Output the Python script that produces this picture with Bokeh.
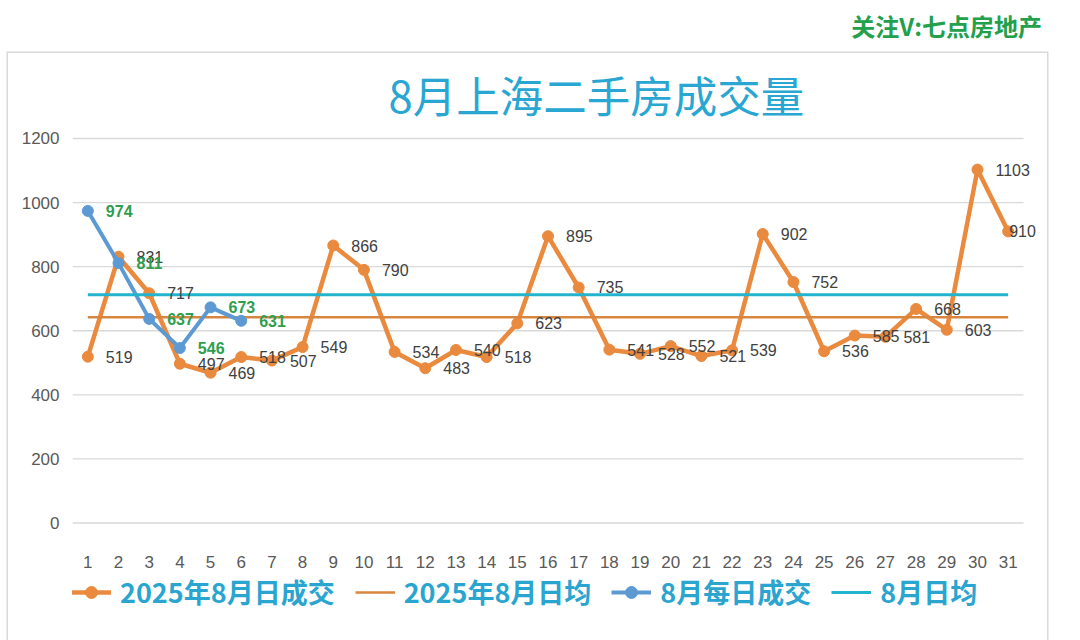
from bokeh.plotting import figure
from bokeh.models import Range1d, FixedTicker, Legend, LegendItem, Title, Div, Spacer
from bokeh.layouts import column, row
from bokeh.core.properties import value
from bokeh.embed import file_html
from bokeh.resources import INLINE

# ---- data ----
days = list(range(1, 32))
deals_2025 = [519, 831, 717, 497, 469, 518, 507, 549, 866, 790, 534, 483, 540, 518, 623,
              895, 735, 541, 528, 552, 521, 539, 902, 752, 536, 585, 581, 668, 603, 1103, 910]
days_cur = [1, 2, 3, 4, 5, 6]
deals_cur = [974, 811, 637, 546, 673, 631]
avg_2025 = 642
avg_cur = 712
y_ticks = [0, 200, 400, 600, 800, 1000, 1200]
title_text = "8月上海二手房成交量"
watermark = "关注V:七点房地产"
legend_labels = ["2025年8月日成交", "2025年8月日均", "8月每日成交", "8月日均"]

# ---- style ----
ORANGE = "#E98A3E"
ORANGE_AVG = "#D8863F"
BLUE = "#5D9AD3"
CYAN = "#22B4CD"
GRID = "#D9D9D9"
TICK = "#595959"
LEGEND_TXT = "#2AA5CF"
CJK = "Noto Sans CJK SC"
LAT = "Liberation Sans"
label_dx_2025 = [18] * (len(days) - 1) + [1]   # last label nudged inside the chart area

p = figure(width=1039, height=514, x_range=Range1d(0.5, 32.217), y_range=Range1d(-39, 1224.9),
           output_backend="svg", toolbar_location=None, title=None,
           min_border_left=64, min_border_right=2, min_border_top=0, min_border_bottom=0)
p.outline_line_color = None
p.background_fill_color = "white"
p.border_fill_color = "white"
p.xgrid.visible = False
p.ygrid.visible = False

# axes
p.xaxis.ticker = FixedTicker(ticks=days)
p.yaxis.ticker = FixedTicker(ticks=y_ticks)
for ax in (p.xaxis, p.yaxis):
    ax.axis_line_color = None
    ax.major_tick_line_color = None
    ax.minor_tick_line_color = None
    ax.major_label_text_font = LAT
    ax.major_label_text_font_size = "17px"
    ax.major_label_text_color = TICK
p.yaxis.major_label_standoff = 7
p.xaxis.major_label_standoff = 14
p.xaxis.major_label_text_baseline = "middle"

# gridlines across the category span
p.segment(x0=days[0] - 0.5, x1=days[-1] + 0.5, y0=y_ticks, y1=y_ticks, line_color=GRID, line_width=1.3)

# series styles
line_2025 = dict(line_color=ORANGE, line_width=4.5)
mark_2025 = dict(size=11, fill_color=ORANGE, line_color=ORANGE)
line_avg25 = dict(line_color=ORANGE_AVG, line_width=2.5)
line_cur = dict(line_color=BLUE, line_width=4)
mark_cur = dict(size=11, fill_color=BLUE, line_color=BLUE)
line_avgc = dict(line_color=CYAN, line_width=3)


def draw_series(fig):
    r1 = fig.line(days, deals_2025, **line_2025)
    r1m = fig.scatter(days, deals_2025, **mark_2025)
    r2 = fig.line([days[0], days[-1]], [avg_2025, avg_2025], **line_avg25)
    r3 = fig.line(days_cur, deals_cur, **line_cur)
    r3m = fig.scatter(days_cur, deals_cur, **mark_cur)
    r4 = fig.line([days[0], days[-1]], [avg_cur, avg_cur], **line_avgc)
    return [[r1, r1m], [r2], [r3, r3m], [r4]]


draw_series(p)

# data labels
p.text(x=days, y=deals_2025, text=[str(v) for v in deals_2025], x_offset=label_dx_2025,
       text_align="left", text_baseline="middle", text_font=value(LAT),
       text_font_size="16px", text_color="#404040")
p.text(x=days_cur, y=deals_cur, text=[str(v) for v in deals_cur], x_offset=18,
       text_align="left", text_baseline="middle", text_font=value(LAT),
       text_font_size="16px", text_font_style="bold", text_color="#2E9E4F")

# title
p.add_layout(Title(text=title_text, align="left", offset=316, standoff=9,
                   text_font=CJK, text_font_size="43.5px", text_font_style="normal",
                   text_color="#2AA6D3"), "above")

# legend strip: same series drawn out of view, only the legend is visible
lf = figure(width=1039, height=73, x_range=Range1d(0, 1), y_range=Range1d(0, 1),
            output_backend="svg", toolbar_location=None, title=None,
            x_axis_location=None, y_axis_location=None,
            min_border_left=0, min_border_right=0, min_border_top=0, min_border_bottom=0)
lf.grid.visible = False
lf.outline_line_color = None
lf.border_fill_color = "white"
legend_renderers = draw_series(lf)
legend = Legend(items=[LegendItem(label=lab, renderers=rs) for lab, rs in zip(legend_labels, legend_renderers)],
                orientation="horizontal", location=(-1, 32),
                border_line_color=None, background_fill_alpha=0,
                padding=0, margin=0, spacing=20, label_standoff=9,
                glyph_width=40, glyph_height=30, label_height=30,
                label_text_font=CJK, label_text_font_size="27px", label_text_font_style="bold",
                label_text_color=LEGEND_TXT, label_text_baseline="middle")
lf.add_layout(legend, "center")

wm = Div(text=('<div style="width:1037px;text-align:right;font-family:\'Noto Sans CJK SC\';'
               'font-weight:bold;font-size:24px;color:#22A04B;line-height:28px;padding-top:7px;">'
               + watermark + '</div>'), width=1048, height=43)

box = column(Spacer(width=1039, height=3), p, lf,
             styles={"box-shadow": "0 0 0 1.5px #D9D9D9", "background": "white"})
layout = column(wm, row(Spacer(width=8, height=590), box))
open("out.html", "w").write(file_html(layout, INLINE))
